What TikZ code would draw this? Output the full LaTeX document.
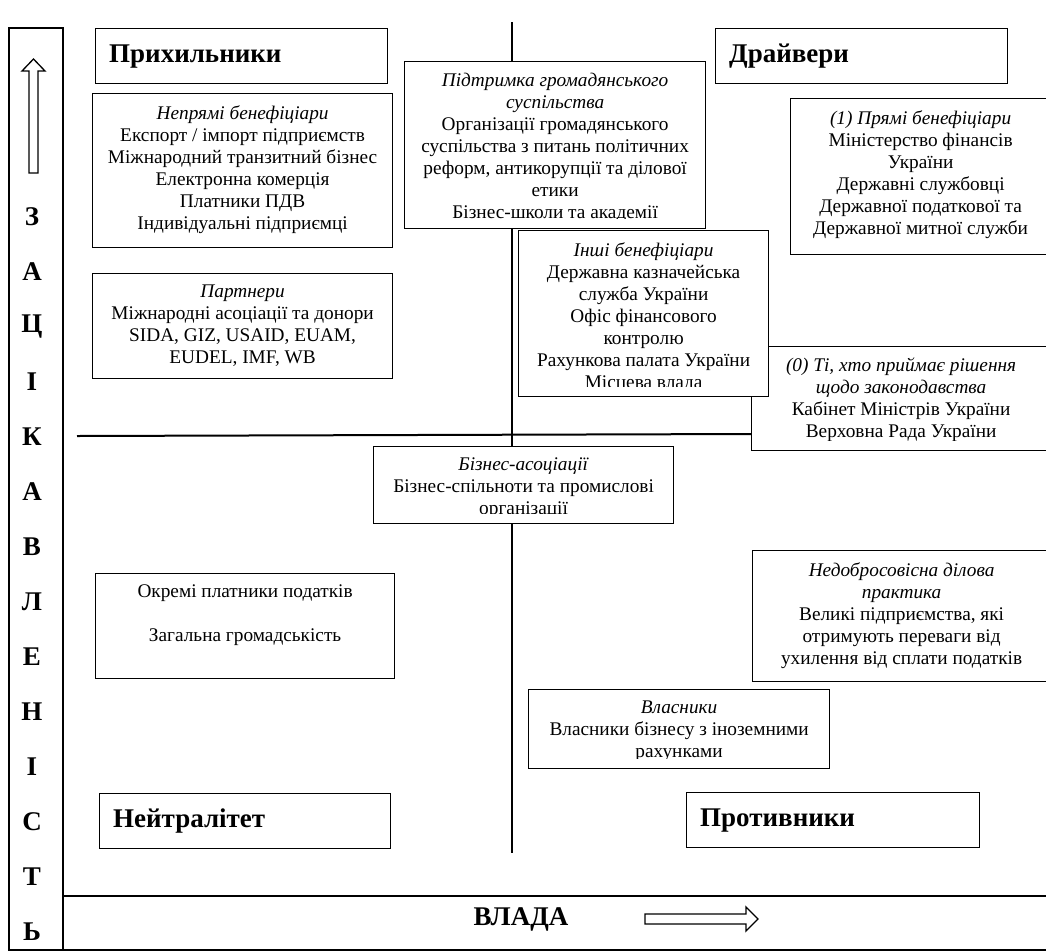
\documentclass[tikz,border=0pt]{standalone}
\usepackage{fontspec}
\setmainfont{Liberation Serif}

\tikzset{
  axis/.style={line width=2pt},
  cell/.style={draw, fill=white, line width=1.2pt, inner sep=0pt, anchor=north west},
  celltext/.style={draw=none, fill=none, minimum width=0pt, minimum height=0pt,
    font=\fontsize{19.3}{22}\selectfont, align=center, inner sep=0pt, anchor=north},
  headtext/.style={font=\fontsize{27}{30}\selectfont\bfseries, inner sep=0pt, anchor=west},
  sidelet/.style={font=\fontsize{27}{30}\selectfont\bfseries, inner sep=0pt},
  bigarrow/.style={line width=1.3pt, fill=white, line join=miter},
}

% box: name, x1, y1, x2, y2 (px, y down), text (clipped at the bottom like the original)
\newcommand{\cellbox}[6]{%
  \node[cell, minimum width=#4pt-#2pt, minimum height=#5pt-#3pt,
    path picture={
      \clip ([yshift=10pt]path picture bounding box.south west)
        rectangle (path picture bounding box.north east);
      \node[celltext] at ([yshift=-11pt]path picture bounding box.north) {#6};
    }] (#1) at (#2,#3) {};}

% box with a bold heading
\newcommand{\headbox}[6]{%
  \node[cell, minimum width=#4pt-#2pt, minimum height=#5pt-#3pt] (#1) at (#2,#3) {};
  \node[headtext] (#1t) at ([xshift=14pt]#1.west) {#6};}

\begin{document}
\begin{tikzpicture}[x=1pt, y=-1pt]
  \useasboundingbox (0,0) rectangle (1046,951);
  \clip (0,0) rectangle (1046,951);

  %axes
  \draw[axis] (512,22) -- (512,853);
  \draw[axis] (77,436) -- (752,434);

  %left strip: interest
  \draw[line width=1.5pt] (9,28) rectangle (63,950);
  \draw[bigarrow] (29,173) -- (29,71) -- (22,71) -- (33.5,59) -- (45,71) -- (38,71) -- (38,173) -- cycle;
  \foreach \s [count=\i from 0] in {З,А,Ц,І,К,А,В,Л,Е,Н,І,С,Т,Ь}
    \node[sidelet] (s\i) at (32,{217+55*\i}) {\s};

  %bottom strip: power
  \draw[line width=1.2pt] (63,896) -- (1046,896);
  \draw[line width=1.2pt] (63,950) -- (1046,950);
  \node[sidelet] (Vlada) at (521,919) {ВЛАДА};
  \draw[bigarrow] (645,914) -- (746,914) -- (746,907) -- (758,919) -- (746,931) -- (746,924) -- (645,924) -- cycle;

  %top left
  \headbox{Pry}{95}{28}{387}{83}{Прихильники}
  \cellbox{Ben}{92}{93}{392}{247}{\textit{Непрямі бенефіціари}\\ Експорт / імпорт підприємств\\ Міжнародний транзитний бізнес\\ Електронна комерція\\ Платники ПДВ\\ Індивідуальні підприємці}
  \cellbox{Par}{92}{273}{392}{378}{\textit{Партнери}\\ Міжнародні асоціації та донори\\ SIDA, GIZ, USAID, EUAM,\\ EUDEL, IMF, WB}
  \cellbox{Gro}{404}{61}{705}{228}{\textit{Підтримка громадянського}\\ \textit{суспільства}\\ Організації громадянського\\ суспільства з питань політичних\\ реформ, антикорупції та ділової\\ етики\\ Бізнес-школи та академії}

  %top right
  \headbox{Dra}{715}{28}{1007}{83}{Драйвери}
  \cellbox{Pri}{790}{98}{1050}{254}{\textit{(1) Прямі бенефіціари}\\ Міністерство фінансів\\ України\\ Державні службовці\\ Державної податкової та\\ Державної митної служби}
  \cellbox{Zak}{751}{346}{1050}{450}{\textit{(0) Ті, хто приймає рішення}\\ \textit{щодо законодавства}\\ Кабінет Міністрів України\\ Верховна Рада України}
  \cellbox{Inh}{518}{230}{768}{396}{\textit{Інші бенефіціари}\\ Державна казначейська\\ служба України\\ Офіс фінансового\\ контролю\\ Рахункова палата України\\ Місцева влада}

  %bottom half
  \cellbox{Biz}{373}{446}{673}{523}{\textit{Бізнес-асоціації}\\ Бізнес-спільноти та промислові\\ організації}
  \cellbox{Okr}{95}{573}{394}{678}{Окремі платники податків\\[22pt] Загальна громадськість}
  \cellbox{Ned}{752}{550}{1050}{681}{\textit{Недобросовісна ділова}\\ \textit{практика}\\ Великі підприємства, які\\ отримують переваги від\\ ухилення від сплати податків}
  \cellbox{Vla}{528}{689}{829}{768}{\textit{Власники}\\ Власники бізнесу з іноземними\\ рахунками}
  \headbox{Nei}{99}{793}{390}{848}{Нейтралітет}
  \headbox{Pro}{686}{792}{979}{847}{Противники}
\end{tikzpicture}
\end{document}
